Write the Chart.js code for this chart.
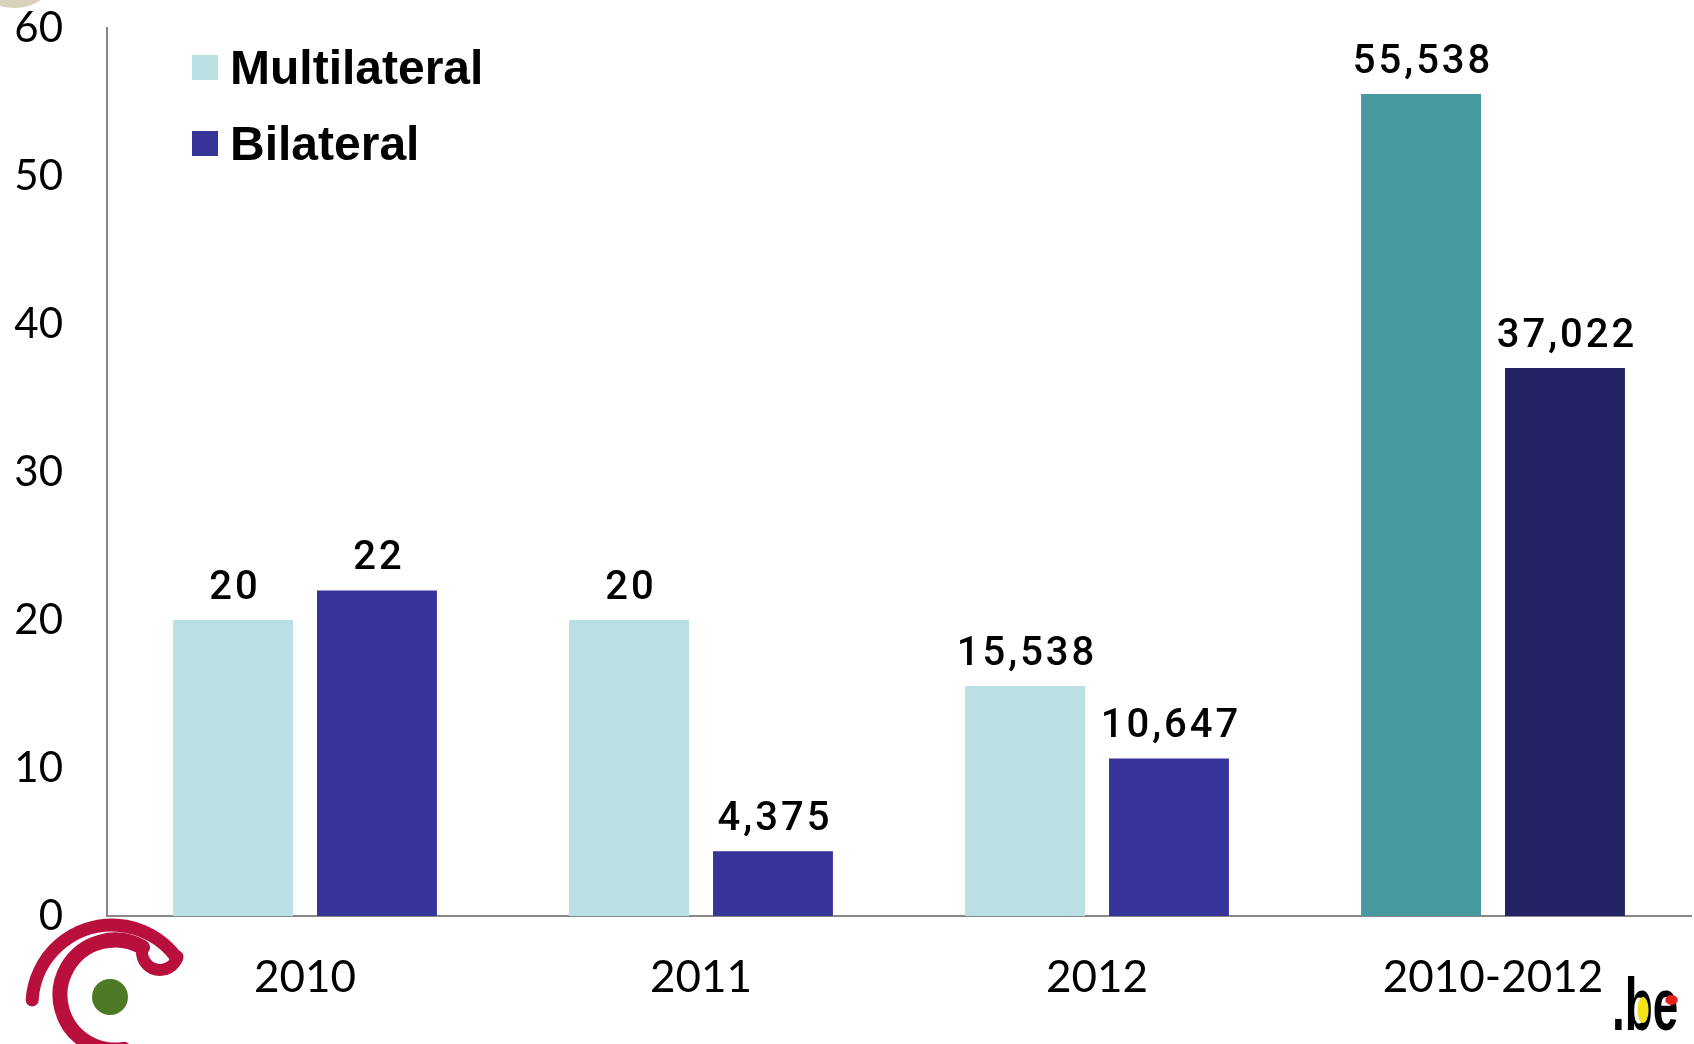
<!DOCTYPE html>
<html>
<head>
<meta charset="utf-8">
<script src="https://cdn.jsdelivr.net/npm/chart.js@4.4.0/dist/chart.umd.min.js"></script>
<style>
  html, body { margin: 0; padding: 0; background: #fff; }
  #wrap { position: relative; width: 1694px; height: 1044px; }
  #legend { position: absolute; left: 192px; top: 38px; font: bold 48px 'Liberation Sans', Arial, sans-serif; color: #000; }
  .legend-item { display: flex; align-items: center; height: 58px; margin-bottom: 18px; }
  .legend-dot { width: 26px; height: 25px; margin-right: 12px; }
</style>
</head>
<body>
<div id="wrap">
  <canvas id="chart" width="1694" height="1044"></canvas>
  <div id="legend"></div>
</div>
<script>
'use strict';

/* ── Data ── */
const categories   = ['2010', '2011', '2012', '2010-2012'];
const seriesNames  = ['Multilateral', 'Bilateral'];
const multilateral = [20, 20, 15.538, 55.538];
const bilateral    = [22, 4.375, 10.647, 37.022];
const multiColors  = ['#BAE0E3', '#BAE0E3', '#BAE0E3', '#4799A0'];
const biColors     = ['#363399', '#363399', '#363399', '#232366'];
const legendColors = ['#BAE0E3', '#363399'];
const yMin = 0, yMax = 60, yStep = 10;

/* Nombre avec virgule décimale */
function fmt(v) {
  return String(v).replace('.', ',');
}

/* ── Étiquettes au-dessus des barres ── */
const barLabels = {
  id: 'barLabels',
  afterDatasetsDraw(chart) {
    const ctx = chart.ctx;
    ctx.save();
    ctx.font = "500 40px Roboto, 'Noto Sans', sans-serif";
    ctx.letterSpacing = '3px';
    ctx.fillStyle = '#000';
    ctx.textAlign = 'center';
    ctx.textBaseline = 'alphabetic';
    chart.data.datasets.forEach((ds, i) => {
      chart.getDatasetMeta(i).data.forEach((bar, j) => {
        ctx.fillText(fmt(ds.data[j]), bar.x + 2, bar.y - 21);
      });
    });
    ctx.restore();
  }
};

/* ── Logos décoratifs ── */
const logos = {
  id: 'logos',
  afterDraw(chart) {
    const ctx = chart.ctx;
    ctx.save();

    /* cercle beige en haut à gauche */
    ctx.fillStyle = '#D8D2BA';
    ctx.beginPath();
    ctx.ellipse(14, -26, 42, 34, 0, 0, Math.PI * 2);
    ctx.fill();

    /* spirale rouge + point vert */
    ctx.strokeStyle = '#B80F3D';
    ctx.lineCap = 'round';
    ctx.lineWidth = 13;
    ctx.beginPath();
    ctx.arc(112, 1005, 80, Math.PI * 1.02, Math.PI * 1.8, false);
    ctx.stroke();
    ctx.lineWidth = 12;
    ctx.beginPath();
    ctx.arc(160, 952, 18, Math.PI * 0.08, Math.PI * 1.08, false);
    ctx.stroke();
    ctx.lineWidth = 15;
    ctx.beginPath();
    ctx.arc(115, 995, 55, -Math.PI / 3, Math.PI * 0.45, true);
    ctx.stroke();
    ctx.fillStyle = '#4E7A25';
    ctx.beginPath();
    ctx.arc(110, 997, 18, 0, Math.PI * 2);
    ctx.fill();

    /* .be */
    ctx.translate(1612, 1030);
    ctx.scale(0.62, 1);
    ctx.font = "bold 74px 'Liberation Sans', Arial, sans-serif";
    ctx.fillStyle = '#000';
    ctx.textBaseline = 'alphabetic';
    ctx.fillText('.be', 0, 0);
    ctx.fillStyle = '#F3E31A';
    ctx.beginPath();
    ctx.ellipse(50, -20, 9, 13, 0, 0, Math.PI * 2);
    ctx.fill();
    ctx.fillStyle = '#E3231B';
    ctx.beginPath();
    ctx.ellipse(96, -30, 10, 5, 0, 0, Math.PI * 2);
    ctx.fill();
    ctx.restore();
  }
};

const chart = new Chart(document.getElementById('chart'), {
  type: 'bar',
  data: {
    labels: categories,
    datasets: [
      { label: seriesNames[0], data: multilateral, backgroundColor: multiColors,
        categoryPercentage: 0.727, barPercentage: 0.833 },
      { label: seriesNames[1], data: bilateral, backgroundColor: biColors,
        categoryPercentage: 0.727, barPercentage: 0.833 }
    ]
  },
  options: {
    responsive: false,
    animation: false,
    devicePixelRatio: 1,
    layout: { padding: { top: 0, right: 3, left: 0, bottom: 0 } },
    plugins: {
      legend:  { display: false },
      tooltip: { enabled: false }
    },
    scales: {
      x: {
        grid:   { display: false, drawTicks: false },
        border: { display: true, color: '#888', width: 2 },
        ticks:  { color: '#000', padding: 35, font: { family: 'Lato', size: 44 } },
        afterFit(s) { s.height = 128; }
      },
      y: {
        min: yMin, max: yMax,
        grid:   { display: false, drawTicks: false },
        border: { display: true, color: '#888', width: 2 },
        ticks:  { stepSize: yStep, color: '#000', padding: 44, font: { family: 'Lato', size: 42 } },
        afterFit(s) { s.width = 107; s.paddingTop = 28; }
      }
    }
  },
  plugins: [barLabels, logos]
});

/* ── Légende HTML ── */
const legendEl = document.getElementById('legend');
seriesNames.forEach((name, i) => {
  const item = document.createElement('div');
  item.className = 'legend-item';
  item.innerHTML = `<span class="legend-dot" style="background:${legendColors[i]}"></span><span>${name}</span>`;
  legendEl.appendChild(item);
});
</script>
</body>
</html>
